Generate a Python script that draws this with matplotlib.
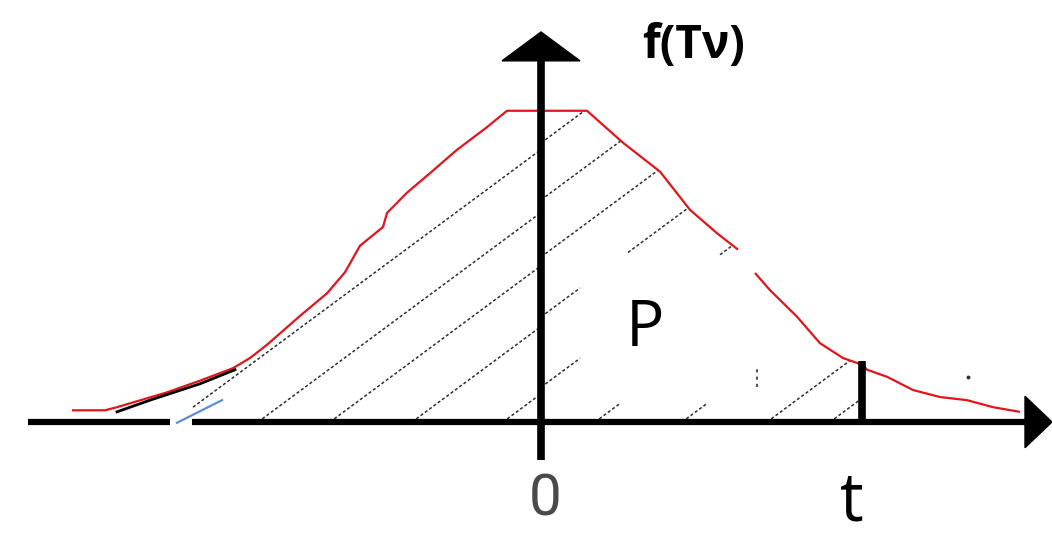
import matplotlib
matplotlib.use("Agg")
import matplotlib.pyplot as plt
from matplotlib.patches import Polygon
import numpy as np

# density curve (x in t-units, y as density)
curve_x = [-4.69, -4.36, -4.24, -3.74, -3.41, -3.08, -2.91, -2.74, -2.41, -2.14,
           -1.96, -1.81, -1.58, -1.54, -1.34, -1.11, -0.84, -0.55, -0.34, 0.46,
           0.82, 1.19, 1.49, 1.76, 1.97]
curve_y = [0.015, 0.015, 0.019, 0.038, 0.053, 0.069, 0.082, 0.099, 0.136, 0.165,
           0.192, 0.226, 0.250, 0.268, 0.294, 0.319, 0.349, 0.377, 0.399, 0.399,
           0.358, 0.321, 0.272, 0.242, 0.221]
tail_x = [2.14, 2.29, 2.56, 2.79, 3.02, 3.22, 3.26, 3.46, 3.72, 3.99, 4.26, 4.52, 4.79]
tail_y = [0.191, 0.169, 0.135, 0.101, 0.082, 0.073, 0.067, 0.058, 0.041, 0.032,
          0.028, 0.019, 0.013]

t_value = 3.21

# black pencil stroke on the left tail and the small blue stroke at the gap
tail_mark_x = [-4.24, -3.91, -3.41, -3.06]
tail_mark_y = [0.013, 0.028, 0.049, 0.067]
blue_x = [-3.64, -3.19]
blue_y = [-0.001, 0.028]

# hatching: slope of the strokes and the pieces that are still visible
hatch_slope = 0.0949
hatch_left = [-3.68, -2.83, -2.11, -1.29, -0.38]
hatch_left_from = [-3.48, -2.83, -2.11, -1.29, -0.38]
hatch_right = [(-3.77, 0.0, 0.6), (-3.00, 0.0, 1.1), (-2.23, 0.0, 1.4),
               (-1.42, 0.0, 0.39), (-1.42, 0.87, 1.46),
               (-0.47, 0.0, 0.39), (-0.47, 1.79, 1.97),
               (0.54, 0.54, 0.79), (1.41, 1.41, 1.66),
               (2.26, 2.26, 3.21), (2.89, 2.89, 3.21)]

fig = plt.figure(figsize=(10.52, 5.39), dpi=100)
ax = fig.add_axes([0, 0, 1, 1])
ax.set_xlim(-5.41, 5.11)
ax.set_ylim(-0.15, 0.541)
ax.axis("off")

all_x = np.array(curve_x + tail_x)
all_y = np.array(curve_y + tail_y)

# region under the curve up to t, used to clip the hatch strokes
mask = all_x <= t_value
t_top = np.interp(t_value, all_x, all_y)
poly_x = np.concatenate([[all_x[0]], all_x[mask], [t_value, t_value]])
poly_y = np.concatenate([[0], all_y[mask], [t_top, 0]])
clip = Polygon(np.column_stack([poly_x, poly_y]), closed=True,
               facecolor="none", edgecolor="none")
ax.add_patch(clip)

hatch_kw = dict(color="#2e2e2e", lw=1.1, linestyle=(0, (2.0, 1.5)))
for c, x0 in zip(hatch_left, hatch_left_from):
    xs = np.array([x0, 0.0])
    ln, = ax.plot(xs, hatch_slope * (xs - c), **hatch_kw)
    ln.set_clip_path(clip)
for c, x0, x1 in hatch_right:
    xs = np.array([x0, x1])
    ln, = ax.plot(xs, hatch_slope * (xs - c), **hatch_kw)
    ln.set_clip_path(clip)

# small leftover specks of erased hatching
ax.plot([2.16, 2.16], [0.045, 0.072], color="#555555", lw=1.5, linestyle=(0, (1.5, 2)))
ax.plot([4.27], [0.058], marker="o", ms=1.8, color="#333333")

# the red density curve (with the small break in the pen stroke)
ax.plot(curve_x, curve_y, color="#e3141b", lw=1.6, solid_capstyle="butt")
ax.plot(tail_x, tail_y, color="#e3141b", lw=1.6, solid_capstyle="butt")
ax.plot(tail_mark_x, tail_mark_y, color="black", lw=2.0)
ax.plot(blue_x, blue_y, color="#5b8fd0", lw=1.6)

# horizontal axis with a gap and an arrow head
x_start, x_gap0, x_gap1, x_end, x_tip = -5.13, -3.71, -3.49, 4.86, 5.11
ax.plot([x_start, x_gap0], [0, 0], color="black", lw=4.5, solid_capstyle="butt")
ax.plot([x_gap1, x_end], [0, 0], color="black", lw=4.5, solid_capstyle="butt")
ax.add_patch(Polygon([[x_end - 0.02, -0.033], [x_tip, 0], [x_end - 0.02, 0.033]],
                     closed=True, color="black"))

# vertical axis with arrow head
y_bottom, y_end, y_tip = -0.049, 0.466, 0.50
ax.plot([0, 0], [y_bottom, y_end], color="black", lw=5.5, solid_capstyle="butt")
ax.add_patch(Polygon([[-0.39, y_end - 0.003], [0, y_tip], [0.39, y_end - 0.003]],
                     closed=True, color="black"))

# the bar at t
ax.plot([t_value, t_value], [0, t_top + 0.005], color="black", lw=5.5, solid_capstyle="butt")

# labels
ax.text(1.53, 0.483, "f(Tν)", fontsize=33, fontweight="bold", ha="center", va="center",
        family=["Open Sans", "DejaVu Sans"])
ax.text(1.04, 0.119, "P", fontsize=46, ha="center", va="center",
        family=["Open Sans", "DejaVu Sans"])
ax.text(0.04, -0.100, "0", fontsize=42, fontweight="normal", ha="center", va="center",
        color="#4a4a4a", family=["Roboto", "DejaVu Sans"])
ax.text(3.11, -0.104, "t", fontsize=48, ha="center", va="center",
        family=["Open Sans", "DejaVu Sans"])

fig.savefig("out.png", dpi=100, facecolor="white")
